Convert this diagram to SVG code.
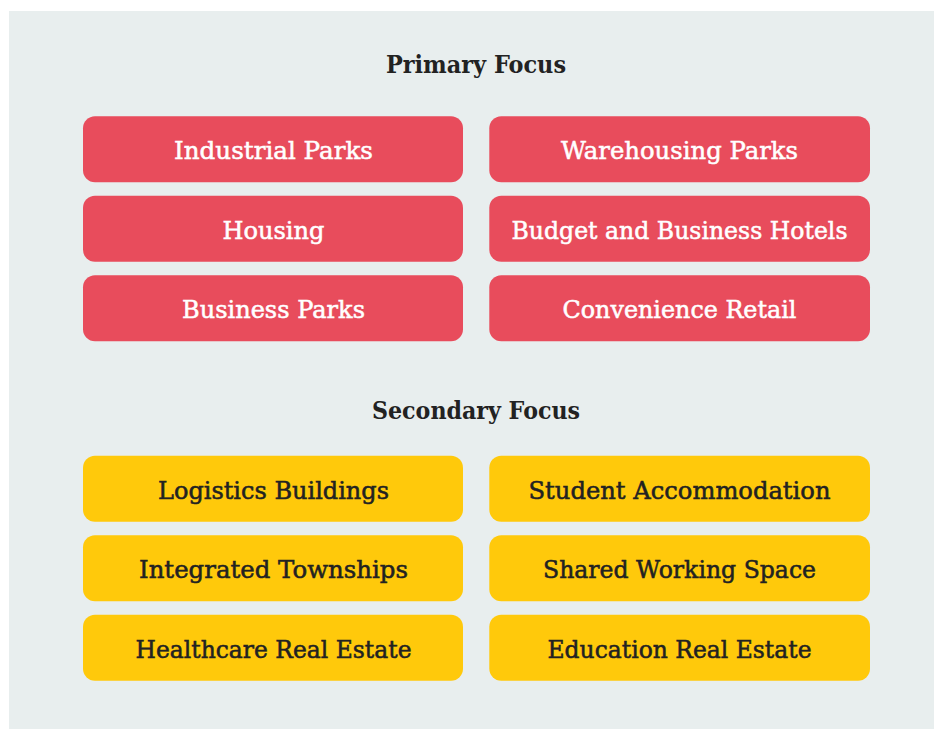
<svg xmlns="http://www.w3.org/2000/svg" width="934" height="729" viewBox="0 0 934 729">
  <style>
    .panel { fill: #E8EEEE; }
    .heading { font-family: "DejaVu Serif", "Liberation Serif", serif; font-weight: bold; font-size: 25px; fill: #222222; text-anchor: middle; }
    .box { stroke: none; }
    .primary .box { fill: #E84C5C; }
    .secondary .box { fill: #FFC90B; }
    .label { font-family: "DejaVu Serif", "Liberation Serif", serif; font-size: 25px; text-anchor: middle; stroke-width: 0.55px; }
    .primary .label { fill: #FFFFFF; stroke: #FFFFFF; }
    .secondary .label { fill: #222222; stroke: #222222; }
  </style>

  <!-- background panel -->
  <rect class="panel" x="9" y="11" width="925" height="718"/>

  <!-- section headings -->
  <text id="heading-primary" class="heading" x="476" y="72.5" textLength="180" lengthAdjust="spacingAndGlyphs">Primary Focus</text>
  <text id="heading-secondary" class="heading" x="476" y="419" textLength="208" lengthAdjust="spacingAndGlyphs">Secondary Focus</text>

  <!-- primary focus tiles -->
  <g class="primary">
    <g id="industrial-parks">
      <rect class="box" x="83" y="116.3" width="380" height="66" rx="12"/>
      <text class="label" x="273.5" y="159.3" textLength="199" lengthAdjust="spacingAndGlyphs">Industrial Parks</text>
    </g>
    <g id="warehousing-parks">
      <rect class="box" x="489.3" y="116.3" width="380.7" height="66" rx="12"/>
      <text class="label" x="679.5" y="159.3" textLength="237" lengthAdjust="spacingAndGlyphs">Warehousing Parks</text>
    </g>
    <g id="housing">
      <rect class="box" x="83" y="195.8" width="380" height="66" rx="12"/>
      <text class="label" x="273.5" y="238.8" textLength="102" lengthAdjust="spacingAndGlyphs">Housing</text>
    </g>
    <g id="budget-business-hotels">
      <rect class="box" x="489.3" y="195.8" width="380.7" height="66" rx="12"/>
      <text class="label" x="679.5" y="238.8" textLength="336" lengthAdjust="spacingAndGlyphs">Budget and Business Hotels</text>
    </g>
    <g id="business-parks">
      <rect class="box" x="83" y="275.3" width="380" height="66" rx="12"/>
      <text class="label" x="273.5" y="318.3" textLength="183" lengthAdjust="spacingAndGlyphs">Business Parks</text>
    </g>
    <g id="convenience-retail">
      <rect class="box" x="489.3" y="275.3" width="380.7" height="66" rx="12"/>
      <text class="label" x="679.5" y="318.3" textLength="234" lengthAdjust="spacingAndGlyphs">Convenience Retail</text>
    </g>
  </g>

  <!-- secondary focus tiles -->
  <g class="secondary">
    <g id="logistics-buildings">
      <rect class="box" x="83" y="455.7" width="380" height="66" rx="12"/>
      <text class="label" x="273.5" y="498.7" textLength="231" lengthAdjust="spacingAndGlyphs">Logistics Buildings</text>
    </g>
    <g id="student-accommodation">
      <rect class="box" x="489.3" y="455.7" width="380.7" height="66" rx="12"/>
      <text class="label" x="679.5" y="498.7" textLength="302" lengthAdjust="spacingAndGlyphs">Student Accommodation</text>
    </g>
    <g id="integrated-townships">
      <rect class="box" x="83" y="535.2" width="380" height="66" rx="12"/>
      <text class="label" x="273.5" y="578.2" textLength="269" lengthAdjust="spacingAndGlyphs">Integrated Townships</text>
    </g>
    <g id="shared-working-space">
      <rect class="box" x="489.3" y="535.2" width="380.7" height="66" rx="12"/>
      <text class="label" x="679.5" y="578.2" textLength="273" lengthAdjust="spacingAndGlyphs">Shared Working Space</text>
    </g>
    <g id="healthcare-real-estate">
      <rect class="box" x="83" y="614.7" width="380" height="66" rx="12"/>
      <text class="label" x="273.5" y="657.7" textLength="276" lengthAdjust="spacingAndGlyphs">Healthcare Real Estate</text>
    </g>
    <g id="education-real-estate">
      <rect class="box" x="489.3" y="614.7" width="380.7" height="66" rx="12"/>
      <text class="label" x="679.5" y="657.7" textLength="264" lengthAdjust="spacingAndGlyphs">Education Real Estate</text>
    </g>
  </g>

  <!-- no connectors in this layout -->
  <g id="connectors"/>
</svg>
